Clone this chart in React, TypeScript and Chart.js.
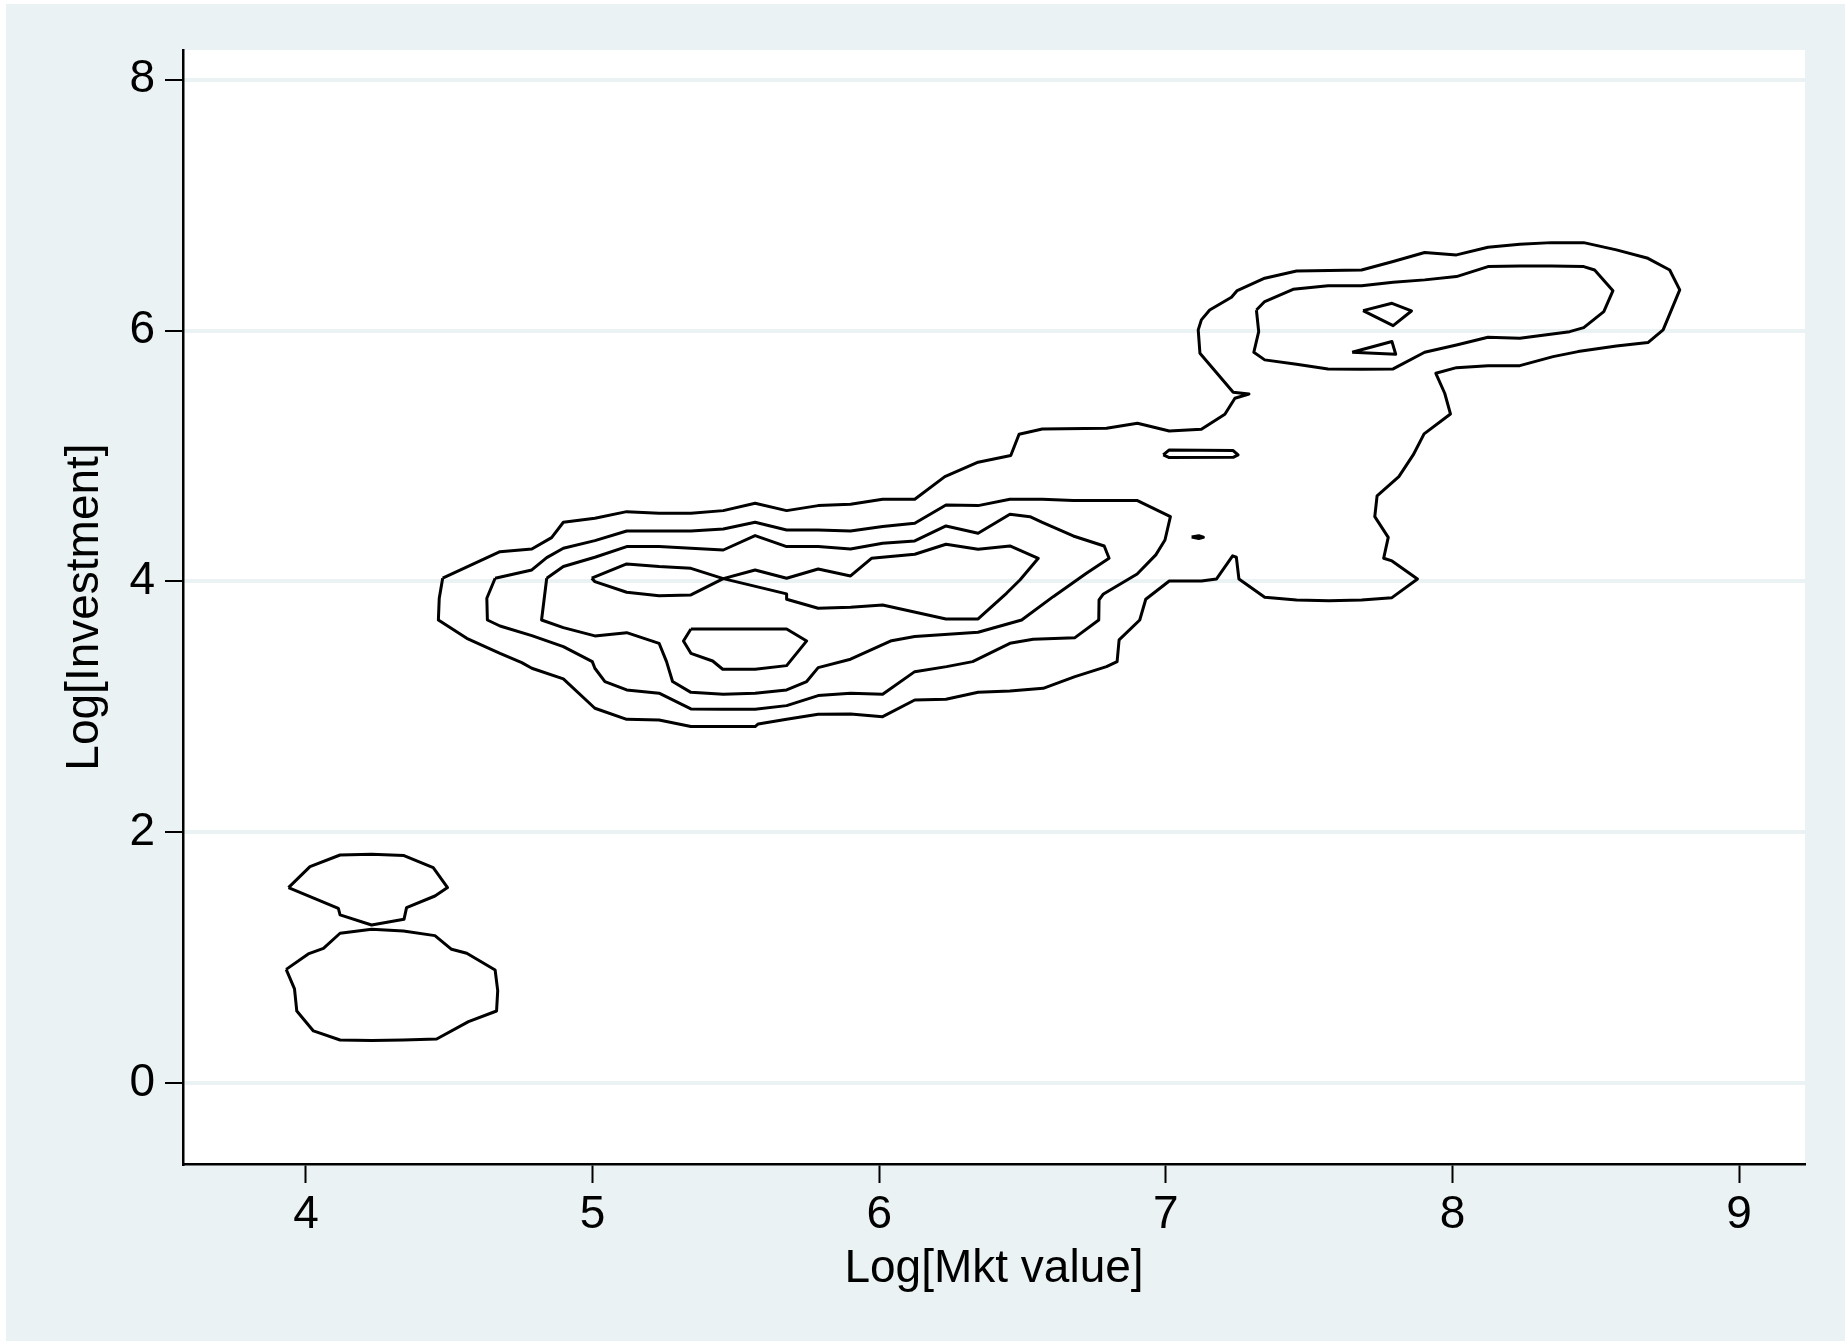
import React, { useEffect, useRef } from 'react';
import { Chart, registerables } from 'chart.js';

Chart.register(...registerables);

// Axis settings (data units)
const xTicks = [4, 5, 6, 7, 8, 9];
const yTicks = [0, 2, 4, 6, 8];
const xMin = 3.571;
const xMax = 9.23;
const yMin = -0.646;
const yMax = 8.237;
const xTitle = 'Log[Mkt value]';
const yTitle = 'Log[Investment]';

// Contour lines, each a closed loop of [Log Mkt value, Log Investment]
const outerContour: [number, number][] = [
  [4.477, 4.025], [4.677, 4.237], [4.788, 4.258], [4.857, 4.349], [4.898, 4.471],
  [5.008, 4.503], [5.119, 4.556], [5.232, 4.543], [5.343, 4.543], [5.456, 4.564],
  [5.567, 4.623], [5.677, 4.564], [5.787, 4.604], [5.9, 4.615], [6.012, 4.655],
  [6.124, 4.655], [6.229, 4.835], [6.345, 4.95], [6.459, 5.003], [6.488, 5.173],
  [6.569, 5.215], [6.793, 5.221], [6.901, 5.261], [7.012, 5.199], [7.124, 5.213],
  [7.206, 5.332], [7.241, 5.46], [7.29, 5.494], [7.235, 5.508], [7.119, 5.819],
  [7.113, 6.005], [7.124, 6.085], [7.153, 6.164], [7.229, 6.265], [7.249, 6.319],
  [7.345, 6.417], [7.456, 6.475], [7.683, 6.483], [7.793, 6.55], [7.903, 6.622],
  [8.014, 6.603], [8.124, 6.664], [8.235, 6.688], [8.345, 6.701], [8.458, 6.701],
  [8.572, 6.643], [8.682, 6.576], [8.758, 6.483], [8.793, 6.324], [8.735, 6.005],
  [8.682, 5.904], [8.572, 5.877], [8.438, 5.832], [8.351, 5.792], [8.235, 5.72],
  [8.124, 5.72], [8.014, 5.704], [7.942, 5.659], [7.973, 5.5], [7.993, 5.335],
  [7.901, 5.176], [7.863, 5.008], [7.813, 4.835], [7.737, 4.681], [7.729, 4.516],
  [7.776, 4.351], [7.76, 4.184], [7.789, 4.163], [7.878, 4.019], [7.789, 3.87],
  [7.683, 3.852], [7.569, 3.846], [7.456, 3.852], [7.345, 3.873], [7.255, 4.019],
  [7.246, 4.192], [7.233, 4.203], [7.177, 4.019], [7.124, 4.003], [7.012, 4.003],
  [6.93, 3.857], [6.909, 3.692], [6.837, 3.533], [6.83, 3.36], [6.793, 3.32],
  [6.683, 3.24], [6.572, 3.147], [6.456, 3.126], [6.345, 3.115], [6.233, 3.06],
  [6.124, 3.054], [6.012, 2.921], [5.9, 2.943], [5.787, 2.94], [5.677, 2.9],
  [5.578, 2.863], [5.567, 2.842], [5.456, 2.842], [5.343, 2.842], [5.232, 2.895],
  [5.119, 2.9], [5.008, 2.988], [4.898, 3.222], [4.788, 3.307], [4.753, 3.352],
  [4.677, 3.426], [4.561, 3.546], [4.462, 3.692], [4.465, 3.865],
];

const mainLevel2: [number, number][] = [
  [4.66, 4.025], [4.788, 4.091], [4.84, 4.189], [4.898, 4.264], [5.008, 4.325],
  [5.119, 4.402], [5.232, 4.402], [5.343, 4.402], [5.456, 4.418], [5.567, 4.471],
  [5.677, 4.41], [5.787, 4.41], [5.9, 4.402], [6.012, 4.437], [6.124, 4.463],
  [6.233, 4.609], [6.345, 4.604], [6.456, 4.654], [6.569, 4.654], [6.677, 4.644],
  [6.901, 4.644], [7.016, 4.516], [6.997, 4.33], [6.965, 4.211], [6.9, 4.059],
  [6.781, 3.897], [6.767, 3.852], [6.766, 3.692], [6.683, 3.551], [6.537, 3.538],
  [6.456, 3.506], [6.326, 3.36], [6.235, 3.32], [6.124, 3.28], [6.012, 3.1],
  [5.9, 3.108], [5.787, 3.089], [5.677, 3.009], [5.567, 2.98], [5.456, 2.98],
  [5.343, 2.983], [5.232, 3.108], [5.119, 3.134], [5.043, 3.201], [5.008, 3.307],
  [4.999, 3.36], [4.898, 3.48], [4.788, 3.567], [4.677, 3.644], [4.633, 3.692],
  [4.631, 3.865],
];

const mainLevel3: [number, number][] = [
  [4.84, 4.025], [4.898, 4.118], [5.008, 4.192], [5.119, 4.277], [5.232, 4.277],
  [5.343, 4.264], [5.456, 4.25], [5.567, 4.365], [5.677, 4.277], [5.787, 4.277],
  [5.9, 4.258], [6.012, 4.304], [6.124, 4.322], [6.233, 4.442], [6.345, 4.383],
  [6.456, 4.535], [6.526, 4.516], [6.569, 4.471], [6.677, 4.362], [6.785, 4.282],
  [6.802, 4.184], [6.723, 4.064], [6.607, 3.878], [6.497, 3.692], [6.345, 3.594],
  [6.124, 3.56], [6.043, 3.527], [5.9, 3.379], [5.787, 3.312], [5.747, 3.201],
  [5.677, 3.134], [5.567, 3.107], [5.456, 3.099], [5.343, 3.115], [5.279, 3.201],
  [5.258, 3.36], [5.232, 3.506], [5.119, 3.591], [5.008, 3.565], [4.898, 3.631],
  [4.822, 3.692],
];

const mainLevel4Left: [number, number][] = [
  [4.997, 4.025], [5.119, 4.139], [5.232, 4.118], [5.343, 4.104], [5.456, 4.022],
  [5.343, 3.892], [5.232, 3.886], [5.119, 3.913], [5.008, 3.998],
];

const mainLevel4Right: [number, number][] = [
  [5.456, 4.022], [5.567, 4.091], [5.677, 4.025], [5.787, 4.099], [5.9, 4.043],
  [5.973, 4.184], [6.124, 4.216], [6.233, 4.296], [6.345, 4.256], [6.456, 4.282],
  [6.555, 4.184], [6.491, 4.011], [6.444, 3.905], [6.345, 3.7], [6.233, 3.7],
  [6.012, 3.812], [5.9, 3.793], [5.787, 3.785], [5.677, 3.857], [5.677, 3.9],
];

const mainPeak: [number, number][] = [
  [5.343, 3.62], [5.677, 3.62], [5.747, 3.525], [5.677, 3.328], [5.567, 3.299],
  [5.454, 3.299], [5.419, 3.365], [5.343, 3.426], [5.317, 3.525],
];

const upperLevel2: [number, number][] = [
  [7.316, 6.164], [7.345, 6.231], [7.444, 6.329], [7.566, 6.358], [7.683, 6.358],
  [7.793, 6.385], [7.903, 6.404], [8.014, 6.43], [8.124, 6.51], [8.235, 6.515],
  [8.345, 6.515], [8.458, 6.51], [8.496, 6.483], [8.56, 6.318], [8.528, 6.151],
  [8.458, 6.023], [8.409, 5.991], [8.235, 5.938], [8.124, 5.946], [8.014, 5.885],
  [7.903, 5.827], [7.793, 5.694], [7.683, 5.691], [7.566, 5.694], [7.456, 5.731],
  [7.345, 5.766], [7.307, 5.827], [7.324, 5.992],
];

const upperDiamond: [number, number][] = [
  [7.688, 6.159], [7.789, 6.217], [7.857, 6.156], [7.793, 6.039],
];

const upperTriangle: [number, number][] = [
  [7.65, 5.827], [7.789, 5.912], [7.802, 5.811],
];

const bridgeSliver: [number, number][] = [
  [6.991, 5.008], [7.012, 5.048], [7.235, 5.043], [7.252, 5.008], [7.235, 4.989],
  [7.012, 4.987],
];

const bridgeDot: [number, number][] = [
  [7.09, 4.353], [7.115, 4.364], [7.131, 4.352], [7.115, 4.342],
];

const lowUpperBlob: [number, number][] = [
  [3.939, 1.558], [4.014, 1.725], [4.119, 1.818], [4.229, 1.824], [4.342, 1.813],
  [4.444, 1.717], [4.494, 1.558], [4.45, 1.491], [4.351, 1.398], [4.342, 1.305],
  [4.229, 1.26], [4.119, 1.34], [4.113, 1.393],
];

const lowLowerBlob: [number, number][] = [
  [3.931, 0.906], [4.008, 1.029], [4.061, 1.074], [4.119, 1.194], [4.229, 1.225],
  [4.34, 1.212], [4.45, 1.175], [4.508, 1.066], [4.561, 1.034], [4.66, 0.901],
  [4.669, 0.736], [4.665, 0.574], [4.567, 0.489], [4.456, 0.351], [4.34, 0.343],
  [4.229, 0.338], [4.119, 0.343], [4.026, 0.415], [3.968, 0.574], [3.96, 0.75],
];

const contours = [
  outerContour, mainLevel2, mainLevel3, mainLevel4Left, mainLevel4Right, mainPeak,
  upperLevel2, upperDiamond, upperTriangle, bridgeSliver, bridgeDot,
  lowUpperBlob, lowLowerBlob,
];

const BG = '#EAF2F3';
const FONT = { family: '"Liberation Sans", Arial, Helvetica, sans-serif', size: 46 };

export default function App() {
  const ref = useRef<HTMLCanvasElement>(null);

  useEffect(() => {
    if (!ref.current) return;
    const plotBg = {
      id: 'plotBg',
      beforeDraw(chart: any) {
        const { ctx, chartArea: a } = chart;
        ctx.save();
        ctx.fillStyle = '#ffffff';
        ctx.fillRect(a.left, a.top, a.right - a.left, a.bottom - a.top);
        ctx.restore();
      },
    };
    const chart = new Chart(ref.current, {
      type: 'scatter',
      data: {
        datasets: contours.map((c) => ({
          data: [...c, c[0]].map(([x, y]) => ({ x, y })),
          showLine: true,
          borderColor: '#000000',
          backgroundColor: '#000000',
          borderWidth: 3,
          borderJoinStyle: 'round' as const,
          pointRadius: 0,
          pointHoverRadius: 0,
          fill: false,
          tension: 0,
        })),
      },
      options: {
        responsive: false,
        animation: false,
        events: [],
        layout: { padding: { left: 0, top: 46, right: 40, bottom: 0 } },
        plugins: { legend: { display: false }, tooltip: { enabled: false } },
        scales: {
          x: {
            type: 'linear',
            min: xMin,
            max: xMax,
            afterBuildTicks: (s: any) => {
              s.ticks = xTicks.map((v) => ({ value: v }));
            },
            afterFit: (s: any) => {
              s.height = 177;
            },
            grid: { drawOnChartArea: false, tickLength: 19, tickColor: '#000', tickWidth: 2 },
            border: { display: true, color: '#000', width: 2.5 },
            ticks: { font: FONT, color: '#000', padding: 5, maxRotation: 0, autoSkip: false },
            title: { display: true, text: xTitle, font: FONT, color: '#000', padding: { top: 0, bottom: 44 } },
          },
          y: {
            type: 'linear',
            min: yMin,
            max: yMax,
            afterBuildTicks: (s: any) => {
              s.ticks = yTicks.map((v) => ({ value: v }));
            },
            afterFit: (s: any) => {
              s.width = 177;
            },
            grid: { color: BG, lineWidth: 4, tickLength: 18, tickColor: '#000', tickWidth: 2 },
            border: { display: true, color: '#000', width: 2.5 },
            ticks: { font: FONT, color: '#000', padding: 10, autoSkip: false },
            title: { display: true, text: yTitle, font: FONT, color: '#000', padding: { top: 52, bottom: 0 } },
          },
        },
      },
      plugins: [plotBg],
    } as any);
    return () => chart.destroy();
  }, []);

  return (
    <div style={{ position: 'fixed', left: 0, top: 0, width: 1845, height: 1341, background: '#ffffff' }}>
      <div style={{ position: 'absolute', left: 6, top: 4, width: 1839, height: 1337, background: BG }}>
        <canvas ref={ref} width={1839} height={1337} style={{ display: 'block', width: 1839, height: 1337 }} />
      </div>
    </div>
  );
}
